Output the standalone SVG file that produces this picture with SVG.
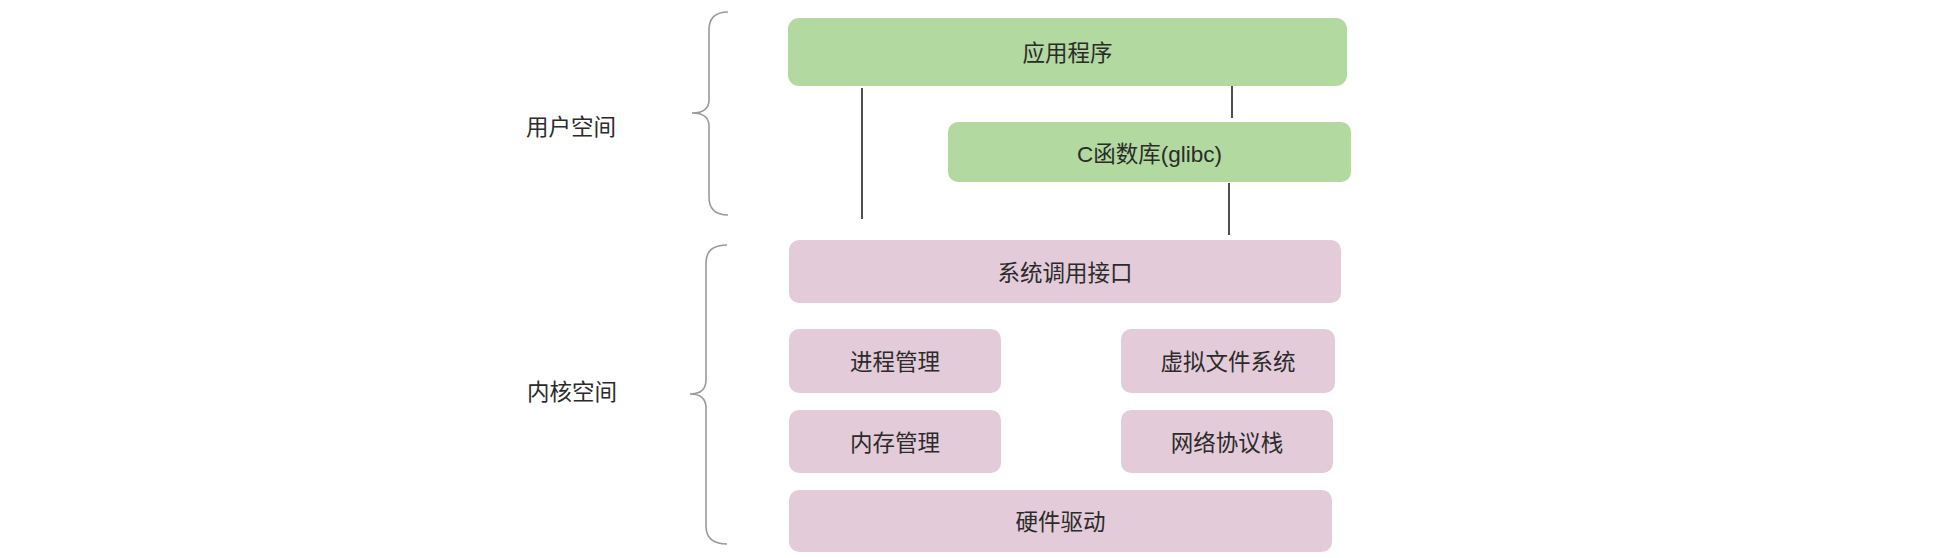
<svg xmlns="http://www.w3.org/2000/svg" width="1956" height="558" viewBox="0 0 1956 558">
<style>
.t{font-family:"Liberation Sans","Noto Sans CJK SC",sans-serif;font-size:22.5px;fill:#2b2b2b;text-anchor:middle;dominant-baseline:central}
.g{fill:#b2d9a0}
.p{fill:#e3cbd9}
.br{fill:none;stroke:#9a9a9a;stroke-width:1.6}
.ln{stroke:#222;stroke-width:1.6}
</style>
<rect width="1956" height="558" fill="#ffffff"/>
<g id="label-user"><text class="t" x="571" y="127">用户空间</text></g>
<g id="label-kernel"><text class="t" x="572" y="392">内核空间</text></g>
<g id="brace-user"><path class="br" d="M728,12 Q709,12 709,30 L709,100 Q709,113 692,113 Q709,113 709,126 L709,197 Q709,215 728,215"/></g>
<g id="brace-kernel"><path class="br" d="M727,245 Q706,245 706,263 L706,380 Q706,394 690,394 Q706,394 706,408 L706,526 Q706,544 727,544"/></g>
<g id="connectors">
<line class="ln" x1="862" y1="88" x2="862" y2="219"/>
<line class="ln" x1="1232" y1="84" x2="1232" y2="118"/>
<line class="ln" x1="1229" y1="183" x2="1229" y2="235"/>
</g>
<g id="app"><rect class="g" x="788" y="18" width="559" height="68" rx="11"/><text class="t" x="1067.5" y="53">应用程序</text></g>
<g id="glibc"><rect class="g" x="948" y="122" width="403" height="60" rx="10"/><text class="t" x="1149.5" y="154">C函数库(glibc)</text></g>
<g id="syscall"><rect class="p" x="789" y="240" width="552" height="63" rx="10"/><text class="t" x="1065" y="273">系统调用接口</text></g>
<g id="proc"><rect class="p" x="789" y="329" width="212" height="64" rx="10"/><text class="t" x="895" y="362">进程管理</text></g>
<g id="vfs"><rect class="p" x="1121" y="329" width="214" height="64" rx="10"/><text class="t" x="1228" y="362">虚拟文件系统</text></g>
<g id="mem"><rect class="p" x="789" y="410" width="212" height="63" rx="10"/><text class="t" x="895" y="443">内存管理</text></g>
<g id="net"><rect class="p" x="1121" y="410" width="212" height="63" rx="10"/><text class="t" x="1227" y="443">网络协议栈</text></g>
<g id="hw"><rect class="p" x="789" y="490" width="543" height="62" rx="10"/><text class="t" x="1060.5" y="522">硬件驱动</text></g>
</svg>
